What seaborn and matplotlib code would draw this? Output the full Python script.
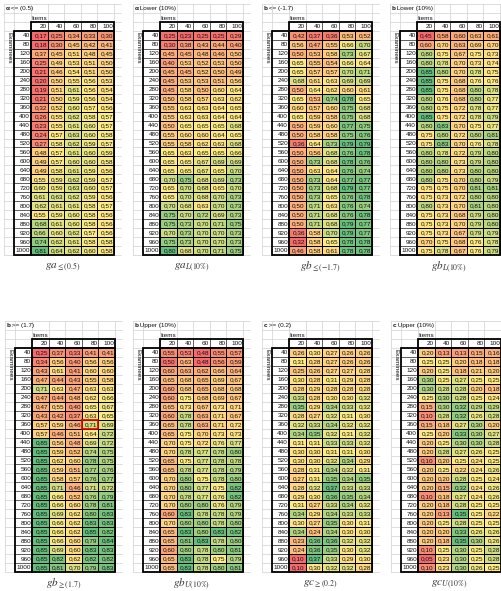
import numpy as np
import pandas as pd
import matplotlib
matplotlib.use("Agg")
import matplotlib.pyplot as plt
import seaborn as sns
from matplotlib.colors import LinearSegmentedColormap, TwoSlopeNorm
from matplotlib.patches import Rectangle

# --- datos ---
examinees = [40, 80, 120, 160, 200, 240, 280, 320, 360, 400, 440, 480, 520,
             560, 600, 640, 680, 720, 760, 800, 840, 880, 920, 960, 1000]
items = [20, 40, 60, 80, 100]

ga_small = [
    [0.17, 0.25, 0.34, 0.33, 0.30], [0.18, 0.30, 0.45, 0.42, 0.41],
    [0.37, 0.45, 0.51, 0.48, 0.45], [0.25, 0.49, 0.53, 0.51, 0.50],
    [0.21, 0.46, 0.54, 0.51, 0.50], [0.20, 0.50, 0.55, 0.56, 0.53],
    [0.19, 0.51, 0.61, 0.56, 0.54], [0.21, 0.50, 0.59, 0.56, 0.54],
    [0.32, 0.52, 0.60, 0.57, 0.56], [0.26, 0.55, 0.62, 0.58, 0.57],
    [0.23, 0.55, 0.61, 0.60, 0.57], [0.24, 0.57, 0.63, 0.60, 0.58],
    [0.27, 0.58, 0.62, 0.59, 0.57], [0.48, 0.57, 0.61, 0.60, 0.59],
    [0.49, 0.57, 0.60, 0.60, 0.58], [0.49, 0.58, 0.61, 0.59, 0.56],
    [0.55, 0.59, 0.62, 0.59, 0.57], [0.60, 0.59, 0.63, 0.60, 0.57],
    [0.61, 0.63, 0.62, 0.59, 0.56], [0.62, 0.61, 0.61, 0.58, 0.57],
    [0.55, 0.59, 0.60, 0.58, 0.56], [0.68, 0.61, 0.60, 0.58, 0.56],
    [0.66, 0.60, 0.62, 0.57, 0.56], [0.74, 0.62, 0.61, 0.58, 0.58],
    [0.81, 0.64, 0.62, 0.60, 0.58],
]
ga_lower = [
    [0.25, 0.23, 0.25, 0.25, 0.29], [0.30, 0.38, 0.43, 0.44, 0.40],
    [0.45, 0.45, 0.48, 0.46, 0.50], [0.40, 0.53, 0.52, 0.53, 0.50],
    [0.45, 0.45, 0.52, 0.50, 0.49], [0.45, 0.53, 0.53, 0.51, 0.56],
    [0.45, 0.58, 0.50, 0.60, 0.64], [0.50, 0.58, 0.57, 0.63, 0.62],
    [0.55, 0.63, 0.63, 0.64, 0.65], [0.55, 0.63, 0.63, 0.64, 0.64],
    [0.50, 0.65, 0.65, 0.65, 0.68], [0.55, 0.60, 0.60, 0.64, 0.65],
    [0.55, 0.58, 0.62, 0.63, 0.68], [0.65, 0.63, 0.65, 0.65, 0.66],
    [0.65, 0.65, 0.67, 0.69, 0.69], [0.65, 0.65, 0.67, 0.65, 0.70],
    [0.70, 0.75, 0.68, 0.69, 0.73], [0.65, 0.70, 0.68, 0.65, 0.70],
    [0.65, 0.70, 0.68, 0.70, 0.73], [0.70, 0.68, 0.63, 0.70, 0.73],
    [0.75, 0.70, 0.72, 0.69, 0.73], [0.75, 0.73, 0.70, 0.71, 0.75],
    [0.70, 0.73, 0.70, 0.70, 0.73], [0.75, 0.73, 0.70, 0.70, 0.73],
    [0.80, 0.68, 0.70, 0.71, 0.75],
]
gb_small = [
    [0.42, 0.37, 0.36, 0.53, 0.52], [0.56, 0.47, 0.55, 0.66, 0.70],
    [0.50, 0.53, 0.58, 0.73, 0.67], [0.65, 0.55, 0.54, 0.66, 0.64],
    [0.65, 0.57, 0.57, 0.70, 0.71], [0.68, 0.61, 0.63, 0.69, 0.69],
    [0.50, 0.64, 0.62, 0.60, 0.61], [0.65, 0.53, 0.74, 0.78, 0.65],
    [0.60, 0.57, 0.60, 0.75, 0.68], [0.65, 0.59, 0.58, 0.75, 0.68],
    [0.50, 0.59, 0.60, 0.77, 0.75], [0.50, 0.58, 0.58, 0.75, 0.76],
    [0.36, 0.64, 0.73, 0.79, 0.79], [0.50, 0.56, 0.68, 0.76, 0.78],
    [0.50, 0.73, 0.68, 0.78, 0.76], [0.50, 0.63, 0.64, 0.76, 0.74],
    [0.50, 0.73, 0.64, 0.77, 0.77], [0.50, 0.73, 0.68, 0.79, 0.77],
    [0.50, 0.73, 0.65, 0.76, 0.78], [0.50, 0.71, 0.63, 0.76, 0.74],
    [0.50, 0.71, 0.68, 0.76, 0.78], [0.50, 0.71, 0.68, 0.79, 0.77],
    [0.36, 0.58, 0.70, 0.79, 0.77], [0.32, 0.58, 0.65, 0.78, 0.78],
    [0.46, 0.58, 0.61, 0.78, 0.78],
]
gb_lower = [
    [0.45, 0.58, 0.60, 0.63, 0.61], [0.60, 0.70, 0.63, 0.69, 0.70],
    [0.80, 0.75, 0.67, 0.75, 0.73], [0.80, 0.78, 0.70, 0.73, 0.74],
    [0.85, 0.80, 0.70, 0.78, 0.75], [0.85, 0.75, 0.68, 0.76, 0.76],
    [0.85, 0.75, 0.68, 0.80, 0.78], [0.80, 0.76, 0.68, 0.80, 0.77],
    [0.80, 0.75, 0.72, 0.78, 0.77], [0.85, 0.75, 0.72, 0.78, 0.79],
    [0.80, 0.83, 0.70, 0.75, 0.77], [0.75, 0.80, 0.72, 0.80, 0.81],
    [0.75, 0.83, 0.70, 0.76, 0.78], [0.80, 0.78, 0.72, 0.79, 0.80],
    [0.80, 0.80, 0.73, 0.79, 0.80], [0.80, 0.80, 0.73, 0.80, 0.80],
    [0.80, 0.75, 0.70, 0.80, 0.79], [0.75, 0.75, 0.70, 0.81, 0.81],
    [0.75, 0.73, 0.72, 0.80, 0.80], [0.80, 0.73, 0.70, 0.81, 0.80],
    [0.75, 0.73, 0.68, 0.79, 0.80], [0.75, 0.73, 0.70, 0.79, 0.80],
    [0.75, 0.73, 0.67, 0.79, 0.79], [0.70, 0.75, 0.68, 0.76, 0.78],
    [0.75, 0.78, 0.67, 0.76, 0.79],
]
gb_large = [
    [0.25, 0.37, 0.33, 0.41, 0.41], [0.34, 0.56, 0.40, 0.56, 0.56],
    [0.43, 0.61, 0.41, 0.60, 0.60], [0.47, 0.44, 0.43, 0.55, 0.58],
    [0.71, 0.63, 0.47, 0.63, 0.63], [0.47, 0.44, 0.48, 0.62, 0.66],
    [0.47, 0.55, 0.40, 0.65, 0.67], [0.43, 0.42, 0.37, 0.63, 0.65],
    [0.57, 0.59, 0.46, 0.71, 0.69], [0.57, 0.46, 0.51, 0.64, 0.72],
    [0.85, 0.56, 0.48, 0.69, 0.72], [0.85, 0.59, 0.52, 0.74, 0.75],
    [0.85, 0.62, 0.60, 0.78, 0.75], [0.85, 0.59, 0.51, 0.77, 0.76],
    [0.85, 0.58, 0.57, 0.76, 0.77], [0.85, 0.71, 0.46, 0.71, 0.72],
    [0.85, 0.66, 0.52, 0.76, 0.79], [0.85, 0.66, 0.60, 0.78, 0.81],
    [0.85, 0.69, 0.62, 0.80, 0.83], [0.85, 0.66, 0.62, 0.83, 0.83],
    [0.85, 0.66, 0.62, 0.85, 0.82], [0.85, 0.66, 0.60, 0.79, 0.84],
    [0.85, 0.69, 0.60, 0.83, 0.83], [0.85, 0.82, 0.62, 0.82, 0.82],
    [0.85, 0.81, 0.70, 0.79, 0.83],
]
gb_upper = [
    [0.55, 0.53, 0.48, 0.55, 0.57], [0.50, 0.63, 0.48, 0.56, 0.59],
    [0.60, 0.63, 0.62, 0.66, 0.64], [0.65, 0.68, 0.65, 0.69, 0.67],
    [0.60, 0.68, 0.65, 0.68, 0.68], [0.60, 0.75, 0.68, 0.69, 0.67],
    [0.65, 0.73, 0.67, 0.73, 0.71], [0.60, 0.78, 0.63, 0.71, 0.67],
    [0.65, 0.78, 0.63, 0.71, 0.72], [0.65, 0.75, 0.70, 0.73, 0.73],
    [0.70, 0.75, 0.72, 0.76, 0.77], [0.70, 0.78, 0.77, 0.78, 0.80],
    [0.65, 0.75, 0.77, 0.78, 0.78], [0.65, 0.78, 0.77, 0.78, 0.79],
    [0.70, 0.80, 0.75, 0.78, 0.80], [0.70, 0.80, 0.77, 0.75, 0.82],
    [0.70, 0.78, 0.77, 0.76, 0.82], [0.70, 0.80, 0.80, 0.76, 0.79],
    [0.60, 0.83, 0.78, 0.78, 0.79], [0.70, 0.80, 0.80, 0.78, 0.80],
    [0.65, 0.83, 0.80, 0.83, 0.82], [0.65, 0.81, 0.83, 0.78, 0.80],
    [0.60, 0.80, 0.78, 0.80, 0.81], [0.65, 0.83, 0.78, 0.75, 0.79],
    [0.65, 0.83, 0.78, 0.80, 0.81],
]
gc_large = [
    [0.26, 0.30, 0.27, 0.26, 0.26], [0.31, 0.28, 0.27, 0.26, 0.26],
    [0.25, 0.26, 0.27, 0.27, 0.28], [0.30, 0.28, 0.31, 0.29, 0.28],
    [0.28, 0.29, 0.28, 0.28, 0.28], [0.33, 0.28, 0.30, 0.30, 0.32],
    [0.35, 0.29, 0.34, 0.33, 0.32], [0.28, 0.27, 0.32, 0.31, 0.30],
    [0.32, 0.33, 0.34, 0.32, 0.32], [0.34, 0.35, 0.32, 0.31, 0.32],
    [0.31, 0.31, 0.33, 0.33, 0.32], [0.30, 0.30, 0.31, 0.31, 0.30],
    [0.30, 0.30, 0.32, 0.34, 0.29], [0.28, 0.31, 0.34, 0.32, 0.31],
    [0.27, 0.31, 0.35, 0.34, 0.35], [0.28, 0.32, 0.37, 0.33, 0.33],
    [0.29, 0.30, 0.36, 0.35, 0.34], [0.31, 0.27, 0.33, 0.34, 0.32],
    [0.34, 0.29, 0.34, 0.33, 0.33], [0.30, 0.27, 0.35, 0.30, 0.31],
    [0.34, 0.24, 0.34, 0.30, 0.30], [0.23, 0.36, 0.36, 0.32, 0.32],
    [0.24, 0.36, 0.35, 0.30, 0.32], [0.10, 0.37, 0.33, 0.29, 0.30],
    [0.10, 0.30, 0.32, 0.32, 0.28],
]
gc_upper = [
    [0.20, 0.13, 0.13, 0.15, 0.16], [0.25, 0.25, 0.20, 0.18, 0.18],
    [0.20, 0.25, 0.18, 0.21, 0.20], [0.30, 0.25, 0.27, 0.25, 0.25],
    [0.30, 0.28, 0.28, 0.20, 0.18], [0.25, 0.30, 0.28, 0.25, 0.24],
    [0.15, 0.30, 0.32, 0.29, 0.29], [0.10, 0.28, 0.32, 0.26, 0.28],
    [0.15, 0.18, 0.27, 0.30, 0.20], [0.25, 0.20, 0.33, 0.30, 0.27],
    [0.20, 0.25, 0.30, 0.30, 0.28], [0.20, 0.28, 0.27, 0.26, 0.25],
    [0.10, 0.20, 0.25, 0.24, 0.25], [0.20, 0.25, 0.22, 0.24, 0.26],
    [0.20, 0.20, 0.28, 0.25, 0.24], [0.20, 0.15, 0.32, 0.24, 0.26],
    [0.10, 0.18, 0.27, 0.24, 0.26], [0.20, 0.18, 0.28, 0.25, 0.25],
    [0.20, 0.13, 0.35, 0.25, 0.22], [0.20, 0.25, 0.28, 0.25, 0.25],
    [0.20, 0.20, 0.33, 0.26, 0.26], [0.20, 0.18, 0.35, 0.30, 0.26],
    [0.10, 0.25, 0.30, 0.25, 0.28], [0.05, 0.23, 0.30, 0.25, 0.28],
    [0.10, 0.23, 0.30, 0.26, 0.25],
]

# (letra en negrita, resto del titulo, etiqueta inferior, datos)
panels = [
    ("α", " <= (0.5)", r"$ga_{\leq(0.5)}$", ga_small),
    ("α", " Lower (10%)", r"$ga_{L(10\%)}$", ga_lower),
    ("b", " <= (-1.7)", r"$gb_{\leq(-1.7)}$", gb_small),
    ("b", " Lower (10%)", r"$gb_{L(10\%)}$", gb_lower),
    ("b", " >= (1.7)", r"$gb_{\geq(1.7)}$", gb_large),
    ("b", " Upper (10%)", r"$gb_{U(10\%)}$", gb_upper),
    ("c", " >= (0.2)", r"$gc_{\geq(0.2)}$", gc_large),
    ("c", " Upper (10%)", r"$gc_{U(10\%)}$", gc_upper),
]

# --- estilo ---
sns.set_style("white")
plt.rcParams["font.family"] = ["Liberation Sans Narrow", "Liberation Sans", "DejaVu Sans"]
plt.rcParams["mathtext.fontset"] = "stix"

excel_cmap = LinearSegmentedColormap.from_list("excel3", ["#F8696B", "#FFEB84", "#63BE7B"])

W, H = 501, 591
COLW, ROWH = 16.6, 8.96
X0, X1 = -1.6, 5.4
Y0, Y1 = -3.0, 25.0
# esquina superior izquierda del bloque de datos (px)
anchors = [(31, 31), (160, 31), (289, 31), (417, 31),
           (32, 348), (160, 348), (289, 348), (418, 348)]

FS = 4.6
GRID = "#d0d0d0"

fig = plt.figure(figsize=(W / 100, H / 100), dpi=100)

for idx, (bold, rest, label, values) in enumerate(panels):
    dl, dt = anchors[idx]
    left = dl + X0 * COLW
    top = dt + Y0 * ROWH
    ax = fig.add_axes([left / W, 1 - (top + (Y1 - Y0) * ROWH) / H,
                       (X1 - X0) * COLW / W, (Y1 - Y0) * ROWH / H])

    df = pd.DataFrame(values, index=examinees, columns=items)
    arr = df.to_numpy()
    norm = TwoSlopeNorm(vmin=arr.min(), vcenter=np.median(arr), vmax=arr.max())
    sns.heatmap(df, ax=ax, cmap=excel_cmap, norm=norm, cbar=False,
                linewidths=0.4, linecolor="black",
                xticklabels=False, yticklabels=False)
    ax.set_xlim(X0, X1)
    ax.set_ylim(Y1, Y0)
    ax.set_axis_off()

    # rejilla gris de hoja de calculo
    for x in [X0, -1, 0, 1, 2, 3, 4, 5]:
        ax.plot([x, x], [Y0, Y1], color=GRID, lw=0.5, zorder=0, clip_on=False)
    for y in np.arange(Y0, Y1 + 1):
        ax.plot([X0, X1], [y, y], color=GRID, lw=0.5, zorder=0, clip_on=False)

    # bordes finos de encabezado y etiquetas de fila
    for x in range(1, 5):
        ax.plot([x, x], [-1, 0], color="black", lw=0.4, zorder=3)
    for y in range(1, 25):
        ax.plot([-1, 0], [y, y], color="black", lw=0.4, zorder=3)
    # bordes gruesos
    for rect in [(0, -1, 5, 1), (0, 0, 5, 25), (-1, 0, 1, 25)]:
        ax.add_patch(Rectangle(rect[:2], rect[2], rect[3], fill=False,
                               ec="black", lw=1.3, zorder=4, clip_on=False))

    # valores
    for i in range(len(examinees)):
        for j in range(len(items)):
            ax.text(j + 0.95, i + 0.55, f"{arr[i, j]:.2f}".replace(".", ","),
                    ha="right", va="center", fontsize=FS, color="#111111", zorder=5)
    for i, e in enumerate(examinees):
        ax.text(-0.05, i + 0.55, str(e), ha="right", va="center",
                fontsize=FS, color="#111111", zorder=5)
    for j, it in enumerate(items):
        ax.text(j + 0.95, -0.45, str(it), ha="right", va="center",
                fontsize=FS, color="#111111", zorder=5)

    ax.text(0.05, -1.45, "Items", ha="left", va="center", fontsize=FS, color="#111111")
    ax.text(-1.3, 0.15, "Examinees", rotation=-90, ha="center", va="top",
            fontsize=FS, color="#111111")
    t = ax.text(X0 + 0.05, -2.5, bold, ha="left", va="center", fontsize=FS,
                fontweight="bold", color="#111111")
    ax.annotate(rest, xy=(1, 0.5), xycoords=t, ha="left", va="center",
                fontsize=FS, color="#111111")

    ax.text((X0 + X1) / 2, Y1 + 1.4, label, ha="center", va="center",
            fontsize=8, color="#333333", clip_on=False)

    if idx == 4:
        ax.add_patch(Rectangle((3, 8), 1, 1, fill=False, ec="#e00000",
                               lw=1.2, zorder=6))

fig.savefig("out.png", dpi=100)
